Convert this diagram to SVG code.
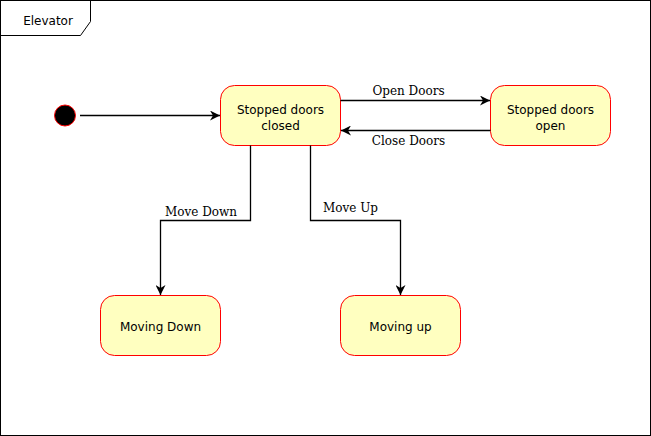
<svg xmlns="http://www.w3.org/2000/svg" width="651" height="436" viewBox="0 0 651 436">
<defs>
<marker id="arr" viewBox="0 0 10 10" refX="10" refY="5" markerWidth="10" markerHeight="10" markerUnits="userSpaceOnUse" orient="auto">
<path d="M0,0 L10,5 L0,10 L3,5 Z" fill="#000"/>
</marker>
</defs>
<style>
.st{fill:#FFFFC0;stroke:#FF0000;stroke-width:1}
.nt{font-family:"DejaVu Sans",sans-serif;font-size:12px;fill:#000;text-anchor:middle}
.el{font-family:"DejaVu Serif",serif;font-size:12px;fill:#000}
.ed{fill:none;stroke:#000;stroke-width:1.3;marker-end:url(#arr)}
</style>
<rect width="651" height="436" fill="#fff"/>
<g id="frame">
<rect x="0.5" y="0.5" width="650" height="435" fill="none" stroke="#000"/>
<path d="M0.5,35.5 L80.5,35.5 L90.5,21.5 L90.5,0.5" fill="none" stroke="#000"/>
<text x="48" y="25" class="nt">Elevator</text>
</g>
<g id="initial">
<circle cx="65" cy="115.5" r="10.5" fill="#000" stroke="#FF0000"/>
</g>
<g id="closed">
<rect x="220.5" y="85.5" width="120" height="60" rx="14" class="st"/>
<text x="280.5" y="114" class="nt">Stopped doors</text>
<text x="280.5" y="130" class="nt">closed</text>
</g>
<g id="open">
<rect x="490.5" y="85.5" width="120" height="60" rx="14" class="st"/>
<text x="550.5" y="114" class="nt">Stopped doors</text>
<text x="550.5" y="130" class="nt">open</text>
</g>
<g id="down">
<rect x="100.5" y="295.5" width="120" height="60" rx="14" class="st"/>
<text x="160.5" y="331" class="nt">Moving Down</text>
</g>
<g id="up">
<rect x="340.5" y="295.5" width="120" height="60" rx="14" class="st"/>
<text x="400.5" y="331" class="nt">Moving up</text>
</g>
<g id="connectors">
<path d="M80,115.5 L220,115.5" class="ed"/>
<path d="M340.5,100.5 L490,100.5" class="ed"/>
<path d="M490.5,130.5 L341,130.5" class="ed"/>
<path d="M250.5,145.5 L250.5,220.5 L160.5,220.5 L160.5,295" class="ed"/>
<path d="M310.5,145.5 L310.5,220.5 L400.5,220.5 L400.5,295" class="ed"/>
<text x="408.5" y="95" class="el" text-anchor="middle">Open Doors</text>
<text x="408.5" y="145" class="el" text-anchor="middle">Close Doors</text>
<text x="165" y="216" class="el">Move Down</text>
<text x="323" y="212" class="el">Move Up</text>
</g>
</svg>
